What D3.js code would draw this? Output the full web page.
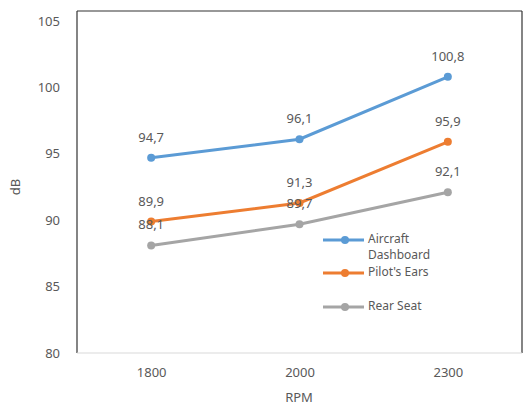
<!DOCTYPE html>
<html><head><meta charset="utf-8">
<script src="https://cdn.jsdelivr.net/npm/d3@7"></script>
<style>body{margin:0;background:#fff}svg{display:block}text{font-family:"Noto Sans",sans-serif;fill:#595959}</style>
</head><body>
<script>
const categories = ["1800","2000","2300"];
const seriesNames = ["Aircraft Dashboard","Pilot's Ears","Rear Seat"];
const dashboard = [94.7, 96.1, 100.8];
const pilotEars = [89.9, 91.3, 95.9];
const rearSeat = [88.1, 89.7, 92.1];
const yTicks = [80,85,90,95,100,105];
const colors = ["#5B9BD5","#ED7D31","#A5A5A5"];
const series = [dashboard, pilotEars, rearSeat];

const W=531,H=405;
const svg=d3.select("body").append("svg").attr("width",W).attr("height",H);
const L=77,R=522,T=11,B=353;
const x=d3.scalePoint().domain(categories).range([L,R]).padding(0.5);
const y=d3.scaleLinear().domain([80,105]).range([B,21]);

svg.append("line").attr("x1",L).attr("x2",R).attr("y1",T).attr("y2",T).attr("stroke","#333").attr("stroke-width",1.2);
svg.append("line").attr("x1",L).attr("x2",L).attr("y1",T).attr("y2",B).attr("stroke","#333").attr("stroke-width",1.2);
svg.append("line").attr("x1",R).attr("x2",R).attr("y1",T).attr("y2",B).attr("stroke","#333").attr("stroke-width",1.2);

const yAxis=svg.append("g").attr("transform",`translate(${L},0)`)
  .call(d3.axisLeft(y).tickValues(yTicks).tickSize(0).tickPadding(17));
yAxis.select(".domain").remove();
yAxis.selectAll("text").style("font-size","13px").attr("fill","#595959");

const xAxis=svg.append("g").attr("transform",`translate(0,${B})`)
  .call(d3.axisBottom(x).tickSize(0).tickPadding(15));
xAxis.select(".domain").attr("stroke","#d9d9d9").attr("stroke-width",1.2).attr("d",`M${L},0H${R}`);
xAxis.selectAll("text").style("font-size","13px").attr("fill","#595959");

svg.append("text").attr("transform",`translate(17,187) rotate(-90)`).attr("text-anchor","middle").attr("dominant-baseline","middle").style("font-size","13px").text("dB");
svg.append("text").attr("x",299).attr("y",402).attr("text-anchor","middle").style("font-size","13px").text("RPM");

const line=d3.line().x((d,i)=>x(categories[i])).y(d=>y(d));
series.forEach((s,k)=>{
  svg.append("path").datum(s).attr("d",line).attr("fill","none").attr("stroke",colors[k]).attr("stroke-width",3).attr("stroke-linecap","round");
  svg.selectAll(null).data(s).enter().append("circle").attr("cx",(d,i)=>x(categories[i])).attr("cy",d=>y(d)).attr("r",4).attr("fill",colors[k]);
  svg.selectAll(null).data(s).enter().append("text").attr("x",(d,i)=>x(categories[i])).attr("y",d=>y(d)-16)
    .attr("text-anchor","middle").style("font-size","13px").text(d=>String(d).replace(".",","));
});

const legY=[240,273,307];
const legLabels=[["Aircraft","Dashboard"],["Pilot's Ears"],["Rear Seat"]];
legLabels.forEach((lab,k)=>{
  const g=svg.append("g");
  g.append("line").attr("x1",323).attr("x2",364).attr("y1",legY[k]).attr("y2",legY[k]).attr("stroke",colors[k]).attr("stroke-width",3);
  g.append("circle").attr("cx",345).attr("cy",legY[k]).attr("r",4).attr("fill",colors[k]);
  lab.forEach((t,j)=>g.append("text").attr("x",368).attr("y",legY[k]+j*16).attr("dominant-baseline","middle").style("font-size","12px").text(t));
});
</script>
</body></html>
